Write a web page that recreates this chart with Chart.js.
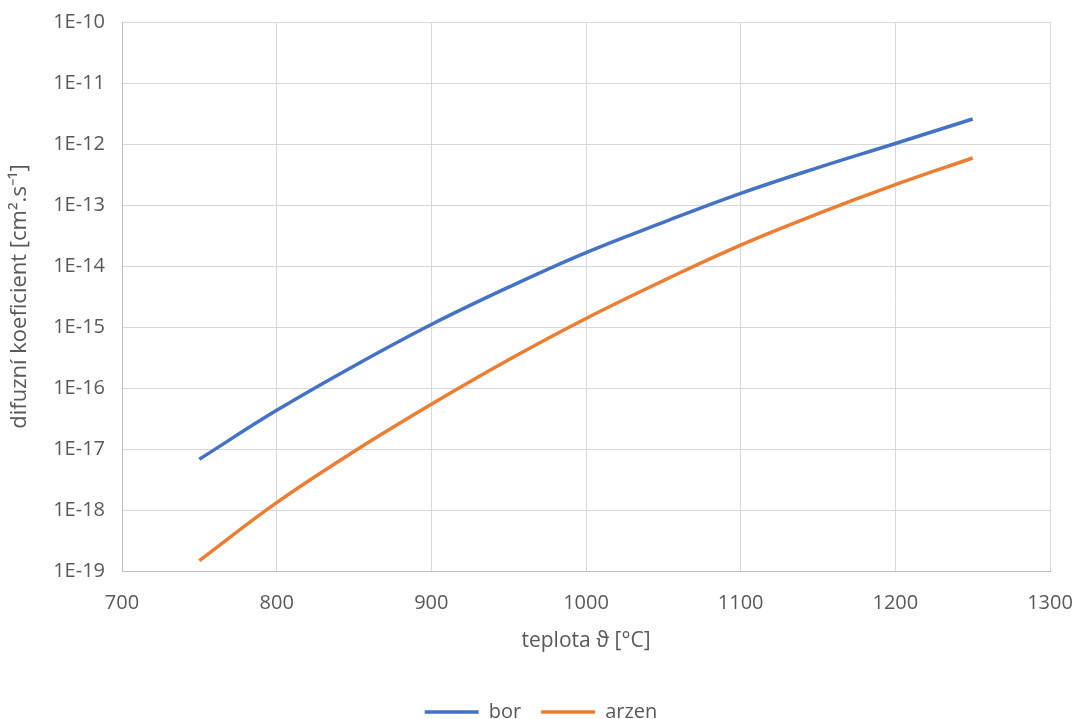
<!DOCTYPE html>
<html>
<head>
<meta charset="utf-8">
<script src="https://cdn.jsdelivr.net/npm/chart.js@4"></script>
<style>
  html, body { margin: 0; padding: 0; background: #fff; }
  #wrap { width: 1077px; height: 719px; }
</style>
</head>
<body>
<div id="wrap"><canvas id="chart" width="1077" height="719"></canvas></div>
<script>
// temperatures [°C]
var temps = [750, 800, 850, 900, 950, 1000, 1050, 1100, 1150, 1200, 1250];
// diffusion coefficients [cm2/s]
var borValues = [6.8e-18, 4.3e-17, 2.3e-16, 1.1e-15, 4.5e-15, 1.66e-14, 5.2e-14, 1.55e-13, 4.1e-13, 1.02e-12, 2.57e-12];
var arzenValues = [1.48e-19, 1.32e-18, 9.1e-18, 5.4e-17, 2.9e-16, 1.38e-15, 5.75e-15, 2.2e-14, 7.2e-14, 2.15e-13, 5.9e-13];
var yTicks = [1e-19, 1e-18, 1e-17, 1e-16, 1e-15, 1e-14, 1e-13, 1e-12, 1e-11, 1e-10];
var xTicks = [700, 800, 900, 1000, 1100, 1200, 1300];

function points(vals) {
    return temps.map(function(t, i) { return { x: t, y: vals[i] }; });
}

var tickFont = { family: 'Open Sans', size: 20 };
var textColor = '#595959';

var ctx = document.getElementById('chart').getContext('2d');
var chart = new Chart(ctx, {
    type: 'line',
    data: {
        datasets: [{
            label: 'bor',
            data: points(borValues),
            borderColor: '#4472C4',
            backgroundColor: '#4472C4',
            borderWidth: 3.5,
            pointRadius: 0,
            tension: 0.4
        }, {
            label: 'arzen',
            data: points(arzenValues),
            borderColor: '#ED7D31',
            backgroundColor: '#ED7D31',
            borderWidth: 3.5,
            pointRadius: 0,
            tension: 0.4
        }]
    },
    options: {
        responsive: false,
        animation: false,
        // left padding only nudges the legend to the right, y axis keeps its place
        layout: { padding: { top: 22, right: 27, bottom: -13, left: 32 } },
        plugins: {
            tooltip: { enabled: false },
            legend: {
                position: 'bottom',
                labels: {
                    usePointStyle: true,
                    pointStyle: 'line',
                    pointStyleWidth: 54,
                    color: textColor,
                    font: { family: 'Open Sans', size: 20 },
                    padding: 20
                }
            }
        },
        scales: {
            x: {
                type: 'linear',
                min: 700,
                max: 1300,
                afterBuildTicks: function(scale) {
                    scale.ticks = xTicks.map(function(v) { return { value: v }; });
                },
                ticks: {
                    color: textColor,
                    font: tickFont,
                    padding: 20,
                    callback: function(v) { return String(v); }
                },
                grid: { color: '#d9d9d9', drawTicks: false },
                border: { color: '#bfbfbf' },
                title: {
                    display: true,
                    text: 'teplota ϑ [°C]',
                    color: textColor,
                    font: { family: 'Open Sans', size: 21 },
                    padding: { top: 13, bottom: 28 }
                },
                afterFit: function(scale) {
                    scale.height = 111;
                    scale.paddingLeft = 0;
                    scale.paddingRight = 0;
                }
            },
            y: {
                type: 'logarithmic',
                min: 1e-19,
                max: 1e-10,
                afterBuildTicks: function(scale) {
                    scale.ticks = yTicks.map(function(v) { return { value: v, major: true }; });
                },
                ticks: {
                    color: textColor,
                    font: tickFont,
                    padding: 17,
                    callback: function(v) { return '1E' + Math.round(Math.log10(v)); }
                },
                grid: { color: '#d9d9d9', drawTicks: false },
                border: { color: '#bfbfbf' },
                title: {
                    display: true,
                    text: 'difuzní koeficient [cm².s⁻¹]',
                    color: textColor,
                    font: { family: 'Open Sans', size: 22 },
                    padding: { top: -25, bottom: 0 }
                },
                afterFit: function(scale) {
                    scale.width = 90;
                    scale.paddingTop = 0;
                    scale.paddingBottom = 0;
                }
            }
        }
    }
});
</script>
</body>
</html>
